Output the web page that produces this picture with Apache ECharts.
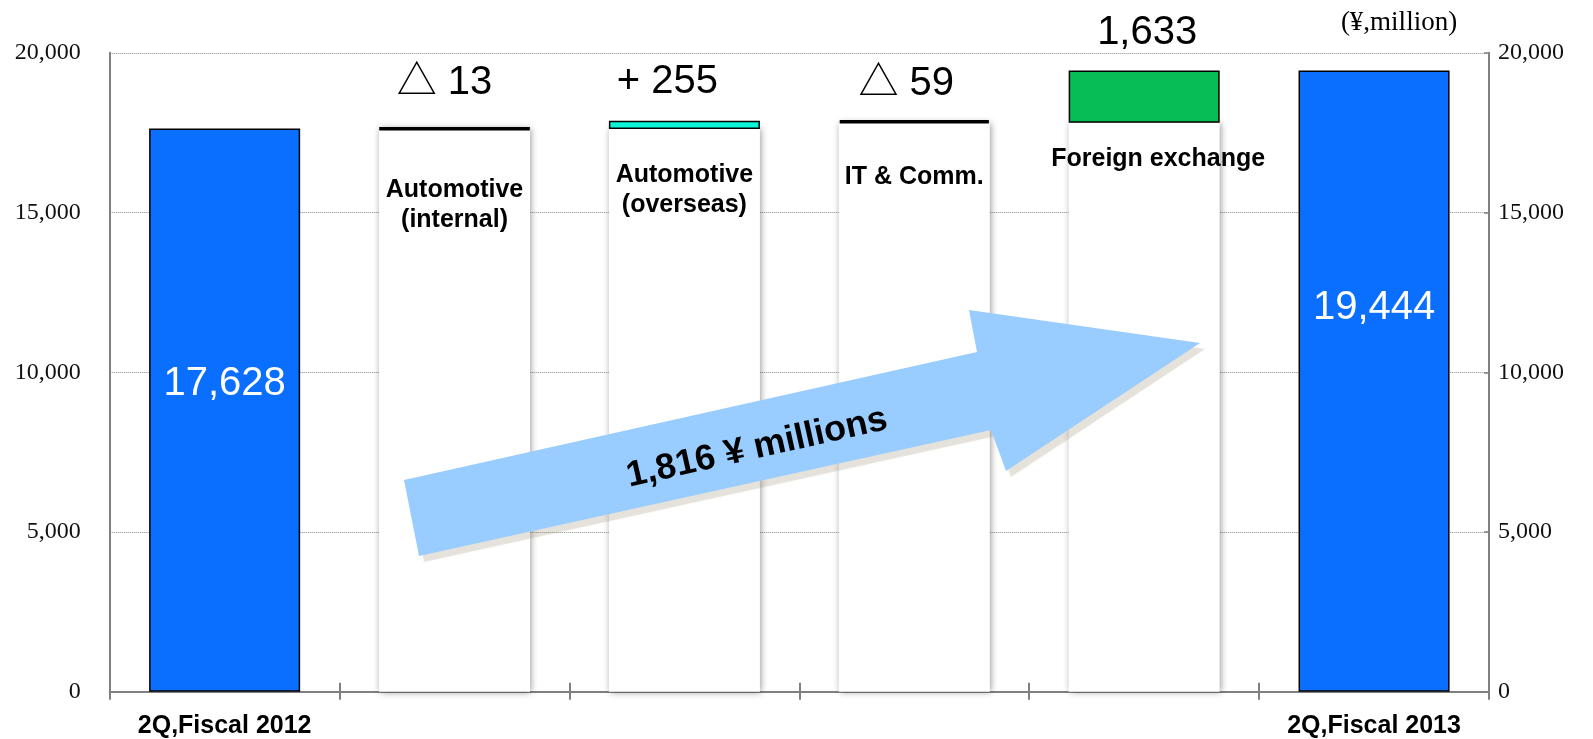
<!DOCTYPE html>
<html><head><meta charset="utf-8">
<script src="https://cdn.jsdelivr.net/npm/echarts@6/dist/echarts.min.js"></script>
<style>html,body{margin:0;padding:0;background:#fff}#c{width:1593px;height:739px}</style>
</head><body><div id="c"></div>
<script>
// ---- data ----
const categories = ['2Q,Fiscal 2012', 'Automotive\n(internal)', 'Automotive\n(overseas)', 'IT & Comm.', 'Foreign exchange', '2Q,Fiscal 2013'];
const startValue = 17628;
const endValue = 19444;
const changes = [-13, 255, -59, 1633];
const changeLabels = ['△ 13', '+ 255', '△ 59', '1,633'];
const yTicks = [0, 5000, 10000, 15000, 20000];
const totalChangeText = '1,816 ¥ millions';
const unitText = '(¥,million)';

// ---- styles (not data) ----
const barColors = ['#0A6EFF', '#000000', '#0AF6D6', '#000000', '#07BE56', '#0A6EFF'];
const barBorders = [1.5, 3.5, 1.5, 3.5, 1.5, 1.5];
const topLabelDist = [0, 24, 19, 16, 18, 0];
const topLabelOffX = [0, -10, -17, -8, 3, 0];
const endLabelOffY = [-26, 0, 0, 0, 0, -73];
const nameLabelDist = [0, 46, 31, 39, 21, 0];
const nameLabelOffX = [0, 0, 0, 0, 14, 0];
const sansFont = '"Liberation Sans", Arial, "Noto Sans CJK JP", sans-serif';
const serifFont = '"Liberation Serif", "Times New Roman", "Noto Sans CJK JP", serif';

const fmt = v => Number(v).toLocaleString('en-US');

// ---- build waterfall ----
const baseData = ['-'];
const deltaData = [];
let running = startValue;
const deltaVals = [startValue];
changes.forEach(c => {
  const lo = Math.min(running, running + c);
  baseData.push(lo);
  deltaVals.push(Math.abs(c));
  running += c;
});
baseData.push('-');
deltaVals.push(endValue);

const last = categories.length - 1;
deltaVals.forEach((v, i) => {
  const isEnd = (i === 0 || i === last);
  deltaData.push({
    value: v,
    itemStyle: { color: barColors[i], borderColor: '#000', borderWidth: barBorders[i] },
    label: isEnd ? {
      show: true, position: 'inside', offset: [0, endLabelOffY[i]],
      color: '#fff', fontSize: 40, fontFamily: sansFont,
      formatter: () => fmt(v)
    } : {
      show: true, position: 'top', distance: topLabelDist[i], offset: [topLabelOffX[i], 0],
      color: '#000', fontSize: 40, fontFamily: sansFont,
      formatter: () => changeLabels[i - 1]
    }
  });
});

const baseItems = baseData.map((v, i) => (v === '-') ? '-' : {
  value: v,
  label: { show: true, position: 'insideTop', distance: nameLabelDist[i], offset: [nameLabelOffX[i], 0] }
});

const chart = echarts.init(document.getElementById('c'), null, { renderer: 'canvas' });
const axisGray = '#808080';
const option = {
  animation: false,
  backgroundColor: '#fff',
  grid: { left: 109.7, right: 104, top: 52.8, bottom: 47.2, containLabel: false },
  xAxis: [
    {
      type: 'category', data: categories, position: 'bottom',
      axisLine: { show: true, lineStyle: { color: axisGray, width: 2 } },
      axisTick: { show: true, inside: false, length: 8, lineStyle: { color: axisGray, width: 2 } },
      axisLabel: {
        interval: 0, margin: 22, color: '#000', fontSize: 25, fontWeight: 'bold', fontFamily: sansFont,
        formatter: (v, i) => (i === 0 || i === last) ? v : ''
      },
      splitLine: { show: false }
    },
    {
      type: 'category', data: categories, position: 'bottom',
      axisLine: { show: false },
      axisTick: { show: true, inside: true, length: 9, lineStyle: { color: axisGray, width: 2 } },
      axisLabel: { show: false }, splitLine: { show: false }
    },
    {
      type: 'category', data: categories, position: 'bottom',
      axisLine: { show: false },
      axisTick: { show: true, inside: true, alignWithLabel: true, length: 6, lineStyle: { color: axisGray, width: 1.5 } },
      axisLabel: { show: false }, splitLine: { show: false }
    }
  ],
  yAxis: [
    {
      type: 'value', position: 'left',
      min: yTicks[0], max: yTicks[yTicks.length - 1], interval: yTicks[1] - yTicks[0],
      axisLine: { show: true, lineStyle: { color: axisGray, width: 2 } },
      axisTick: { show: false },
      axisLabel: { margin: 29, color: '#111', fontSize: 24, fontFamily: serifFont, formatter: v => fmt(v) },
      splitLine: { show: true, lineStyle: { color: '#8a8a8a', type: 'dotted', width: 1 } }
    },
    {
      type: 'value', position: 'right',
      min: yTicks[0], max: yTicks[yTicks.length - 1], interval: yTicks[1] - yTicks[0],
      axisLine: { show: true, lineStyle: { color: axisGray, width: 2 } },
      axisTick: { show: true, inside: true, length: 5, lineStyle: { color: axisGray, width: 1.5 } },
      axisLabel: { margin: 9, color: '#111', fontSize: 24, fontFamily: serifFont, formatter: v => fmt(v) },
      splitLine: { show: false }
    }
  ],
  series: [
    {
      name: 'base', type: 'bar', stack: 'w', barWidth: '65.7%',
      data: baseItems,
      itemStyle: { color: '#fff', shadowColor: 'rgba(0,0,0,0.45)', shadowBlur: 7, shadowOffsetX: 1 },
      label: {
        show: true, position: 'insideTop', color: '#000', fontSize: 25, fontWeight: 'bold',
        fontFamily: sansFont, lineHeight: 30, formatter: '{b}'
      },
      z: 2
    },
    {
      name: 'delta', type: 'bar', stack: 'w', barWidth: '65.7%',
      data: deltaData, z: 3
    }
  ],
  graphic: [
    {
      type: 'polygon', z: 100,
      shape: { points: [[404, 480], [977, 352], [969, 310], [1200, 343], [1006, 471], [991, 430], [419, 556]] },
      style: { fill: '#99CCFF', shadowColor: 'rgba(150,140,110,0.25)', shadowOffsetX: 5, shadowOffsetY: 6, shadowBlur: 1 }
    },
    {
      type: 'text', z: 101, x: 757, y: 448, rotation: 0.22,
      style: {
        text: totalChangeText, fill: '#000', fontSize: 36, fontWeight: 'bold', fontFamily: sansFont,
        align: 'center', verticalAlign: 'middle'
      }
    },
    {
      type: 'text', z: 101, x: 1399, y: 23,
      style: {
        text: unitText, fill: '#000', fontSize: 27, fontFamily: serifFont,
        align: 'center', verticalAlign: 'middle'
      }
    }
  ]
};
chart.setOption(option);
</script></body></html>
